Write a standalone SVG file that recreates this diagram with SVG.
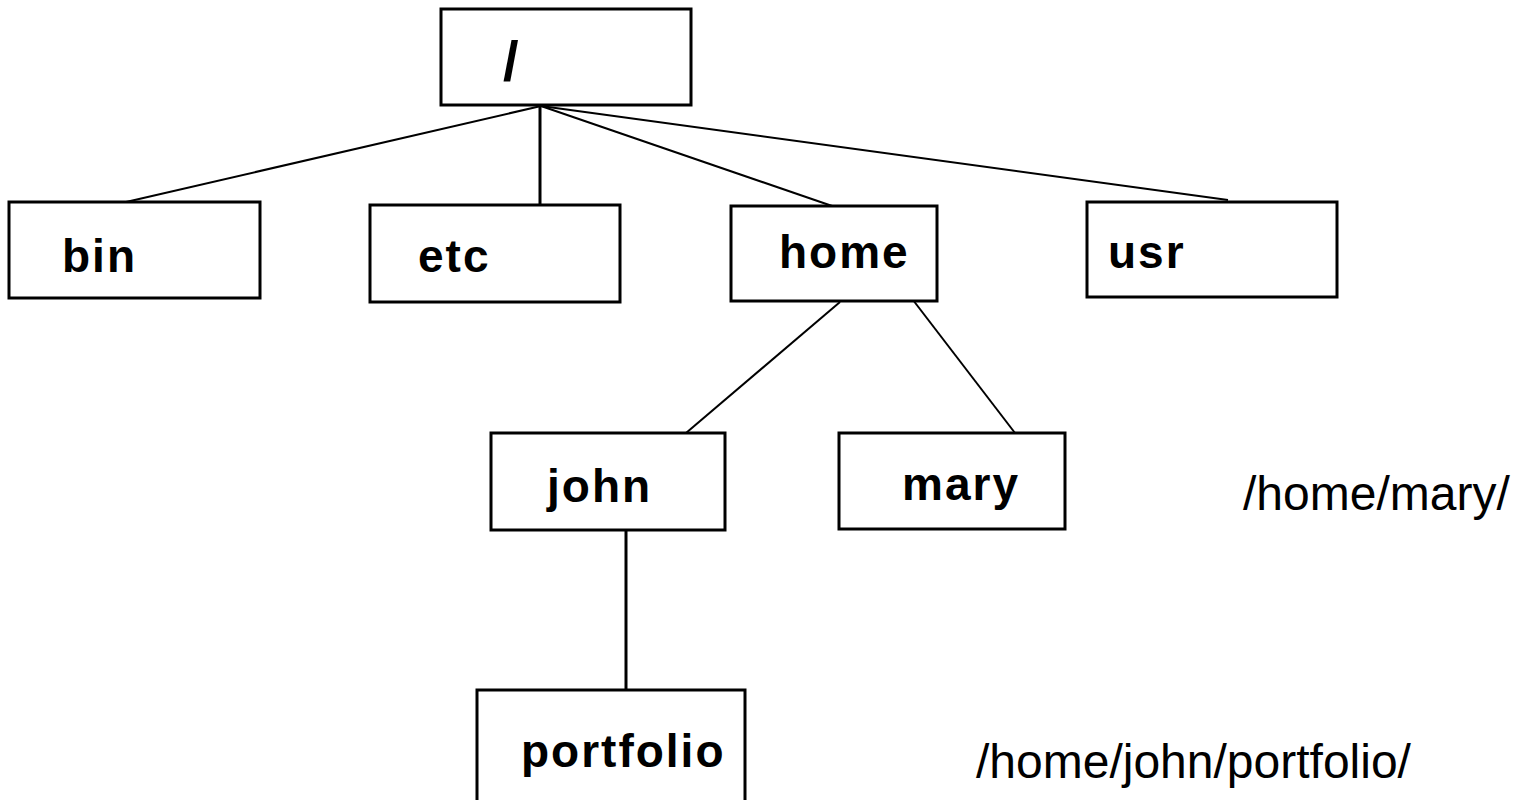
<svg xmlns="http://www.w3.org/2000/svg" width="1526" height="800" viewBox="0 0 1526 800">
<style>
.box{fill:#fff;stroke:#000;stroke-width:3}
.lbl{font-family:"Liberation Sans",Arial,sans-serif;font-weight:bold;font-size:46px;letter-spacing:2px;fill:#000}
.path{font-family:"Liberation Sans",Arial,sans-serif;font-size:48px;fill:#000}
.c{stroke:#000;stroke-width:2;fill:none}
.cv{stroke:#000;stroke-width:3;fill:none}
</style>
<rect width="1526" height="800" fill="#fff"/>
<g id="connectors">
<line class="c" x1="541" y1="106" x2="126" y2="202"/>
<line class="cv" x1="540" y1="106" x2="540" y2="205"/>
<line class="c" x1="541" y1="106" x2="838" y2="208"/>
<line class="c" x1="541" y1="106" x2="1228" y2="200"/>
<line class="c" x1="840" y1="302" x2="686" y2="433"/>
<line class="c" x1="913" y1="300" x2="1015" y2="433"/>
<line class="cv" x1="626" y1="530" x2="626" y2="690"/>
</g>
<g id="root"><rect class="box" x="441" y="9" width="250" height="96"/><text class="lbl" x="503" y="80" style="font-size:56px">/</text></g>
<g id="bin"><rect class="box" x="9" y="202" width="251" height="96"/><text class="lbl" x="62" y="272">bin</text></g>
<g id="etc"><rect class="box" x="370" y="205" width="250" height="97"/><text class="lbl" x="418" y="272">etc</text></g>
<g id="home"><rect class="box" x="731" y="206" width="206" height="95"/><text class="lbl" x="779" y="268">home</text></g>
<g id="usr"><rect class="box" x="1087" y="202" width="250" height="95"/><text class="lbl" x="1108" y="268">usr</text></g>
<g id="john"><rect class="box" x="491" y="433" width="234" height="97"/><text class="lbl" x="547" y="502">john</text></g>
<g id="mary"><rect class="box" x="839" y="433" width="226" height="96"/><text class="lbl" x="902" y="500">mary</text></g>
<g id="portfolio"><rect class="box" x="477" y="690" width="268" height="120"/><text class="lbl" x="521" y="767">portfolio</text></g>
<text class="path" x="1243" y="510">/home/mary/</text>
<text class="path" x="976" y="778">/home/john/portfolio/</text>
</svg>
